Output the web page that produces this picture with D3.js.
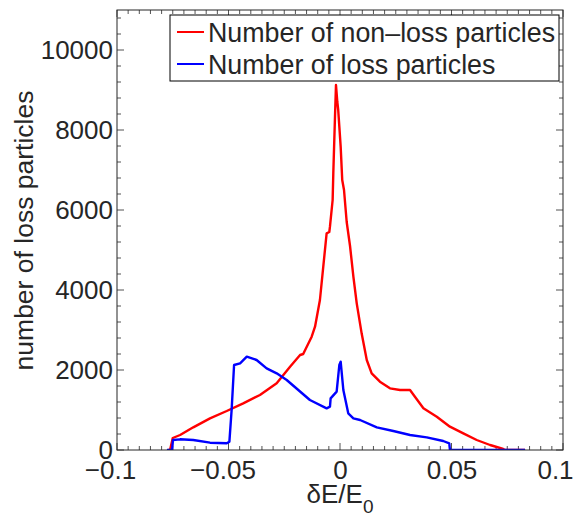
<!DOCTYPE html>
<html>
<head>
<meta charset="utf-8">
<script src="https://cdn.jsdelivr.net/npm/d3@7"></script>
<style>
  body { margin: 0; background: #fff; }
  text { font-family: "Liberation Sans", Arial, Helvetica, sans-serif; fill: #262626; }
</style>
</head>
<body>
<svg id="chart" width="582" height="517"></svg>
<script>
// ---- data ----
const xTicks = [-0.1, -0.05, 0, 0.05, 0.1];
const xTickLabels = ["\u22120.1", "\u22120.05", "0", "0.05", "0.1"];
const yTicks = [0, 2000, 4000, 6000, 8000, 10000];
const yTickLabels = ["0", "2000", "4000", "6000", "8000", "10000"];
const seriesNames = ["Number of non\u2013loss particles", "Number of loss particles"];
const seriesColors = ["#ff0000", "#0000ff"];

const nonLossX = [-0.0770, -0.0762, -0.0750, -0.0717, -0.0658, -0.0583, -0.0508, -0.0434, -0.0359, -0.0284,
  -0.0224, -0.0179, -0.0165, -0.0127, -0.0112, -0.0090, -0.0075, -0.0060, -0.0048, -0.0045, -0.0033, -0.0030,
  -0.0022, -0.0018, -0.0012, -0.0008, -0.0003, 0.0003, 0.0010, 0.0018, 0.0030, 0.0045, 0.0060, 0.0075,
  0.0097, 0.0120, 0.0142, 0.0179, 0.0224, 0.0269, 0.0314, 0.0336, 0.0374, 0.0434, 0.0493, 0.0553,
  0.0613, 0.0673, 0.0732, 0.0740, 0.0830];
const nonLossY = [0, 0, 300, 375, 567, 792, 975, 1167, 1375, 1667,
  2083, 2375, 2400, 2833, 3083, 3750, 4583, 5417, 5450, 5583, 6250, 6917,
  8417, 9125, 8700, 8500, 8083, 7583, 6750, 6500, 5700, 5100, 4333, 3667,
  2917, 2250, 1917, 1708, 1542, 1500, 1500, 1333, 1042, 833, 583, 417,
  250, 125, 25, 0, 0];

const lossX = [-0.0776, -0.0753, -0.0749, -0.0717, -0.0658, -0.0583, -0.0508, -0.0496, -0.0486, -0.0475,
  -0.0448, -0.0418, -0.0374, -0.0329, -0.0284, -0.0239, -0.0187, -0.0135, -0.0060, -0.0045, -0.0042,
  -0.0015, -0.0003, 0.0003, 0.0015, 0.0037, 0.0060, 0.0090, 0.0165, 0.0239, 0.0314, 0.0389, 0.0463,
  0.0490, 0.0493, 0.0830];
const lossY = [0, 0, 250, 267, 250, 183, 167, 208, 1000, 2125,
  2167, 2333, 2250, 2042, 1917, 1750, 1500, 1250, 1042, 1083, 1292,
  1458, 2125, 2208, 1500, 917, 792, 750, 567, 475, 375, 317, 225,
  167, 0, 0];

// ---- layout ----
const svg = d3.select("#chart");
const L = 117, R = 563, T = 10, B = 450;
const x = d3.scaleLinear().domain([-0.1, 0.1]).range([L, R]);
const y = d3.scaleLinear().domain([0, 11000]).range([B, T]);

const xMinor = d3.range(-0.1, 0.1001, 0.005).map(v => +v.toFixed(4));
const yMinor = d3.range(0, 11001, 400);

const tickColor = "#262626";
const minorLen = 4, majorLen = 7;
const g = svg.append("g");
xMinor.forEach(v => {
  const isMajor = xTicks.some(t => Math.abs(t - v) < 1e-9);
  const len = isMajor ? majorLen : minorLen;
  g.append("line").attr("x1", x(v)).attr("x2", x(v)).attr("y1", B).attr("y2", B - len)
    .attr("stroke", tickColor).attr("stroke-width", 0.8);
  g.append("line").attr("x1", x(v)).attr("x2", x(v)).attr("y1", T).attr("y2", T + len)
    .attr("stroke", tickColor).attr("stroke-width", 0.8);
});
yMinor.forEach(v => {
  const isMajor = yTicks.includes(v);
  const len = isMajor ? majorLen : minorLen;
  g.append("line").attr("x1", L).attr("x2", L + len).attr("y1", y(v)).attr("y2", y(v))
    .attr("stroke", tickColor).attr("stroke-width", 0.8);
  g.append("line").attr("x1", R).attr("x2", R - len).attr("y1", y(v)).attr("y2", y(v))
    .attr("stroke", tickColor).attr("stroke-width", 0.8);
});

// tick labels via d3 axes
const xAxis = d3.axisBottom(x).tickValues(xTicks).tickSize(0).tickPadding(0)
  .tickFormat((d, i) => xTickLabels[i]);
const xg = svg.append("g").attr("transform", `translate(0,${B})`).call(xAxis);
xg.select(".domain").remove();
xg.selectAll("text").attr("font-size", 26).attr("dy", null).attr("y", 29)
  .attr("font-family", "Liberation Sans, Arial, sans-serif").attr("fill", "#262626");
xg.selectAll(".tick").filter(d => d === 0.1).select("text").attr("dx", -8);
xg.selectAll(".tick").filter(d => d === -0.1).select("text").attr("dx", -7);
xg.selectAll(".tick").filter(d => d === -0.05).select("text").attr("dx", -6);

const yAxis = d3.axisLeft(y).tickValues(yTicks).tickSize(0).tickPadding(4)
  .tickFormat((d, i) => yTickLabels[i]);
const yg = svg.append("g").attr("transform", `translate(${L},0)`).call(yAxis);
yg.select(".domain").remove();
yg.selectAll("text").attr("font-size", 26).attr("dy", "0.34em")
  .attr("font-family", "Liberation Sans, Arial, sans-serif").attr("fill", "#262626");

// clip
svg.append("clipPath").attr("id", "clip").append("rect")
  .attr("x", L).attr("y", T).attr("width", R - L).attr("height", B - T);

const line = d3.line().x(d => x(d[0])).y(d => y(d[1]));
const plot = svg.append("g").attr("clip-path", "url(#clip)");
plot.append("path").datum(nonLossX.map((v, i) => [v, nonLossY[i]]))
  .attr("d", line).attr("fill", "none").attr("stroke", seriesColors[0])
  .attr("stroke-width", 2.4).attr("stroke-linejoin", "round");
plot.append("path").datum(lossX.map((v, i) => [v, lossY[i]]))
  .attr("d", line).attr("fill", "none").attr("stroke", seriesColors[1])
  .attr("stroke-width", 2.4).attr("stroke-linejoin", "round");

// frame
svg.append("rect").attr("x", L).attr("y", T).attr("width", R - L).attr("height", B - T)
  .attr("fill", "none").attr("stroke", "#262626").attr("stroke-width", 1);

// axis titles
const xl = svg.append("text").attr("x", x(0)).attr("y", 503).attr("text-anchor", "middle")
  .attr("font-size", 26);
xl.append("tspan").text("\u03B4E/E");
xl.append("tspan").attr("font-size", 19).attr("dy", 10).text("0");

svg.append("text").attr("transform", `translate(33,${(88 + 373) / 2}) rotate(-90)`)
  .attr("text-anchor", "middle").attr("font-size", 26.5).text("number of loss particles");

// legend
const lg = svg.append("g");
lg.append("rect").attr("x", 170).attr("y", 15).attr("width", 389).attr("height", 66)
  .attr("fill", "#fff").attr("stroke", "#000").attr("stroke-width", 1);
const legY = [32, 64];
seriesNames.forEach((name, i) => {
  lg.append("line").attr("x1", 177).attr("x2", 204).attr("y1", legY[i]).attr("y2", legY[i])
    .attr("stroke", seriesColors[i]).attr("stroke-width", 2);
  lg.append("text").attr("x", 208).attr("y", legY[i] + 9.5).attr("font-size", 26.8).text(name);
});
</script>
</body>
</html>
